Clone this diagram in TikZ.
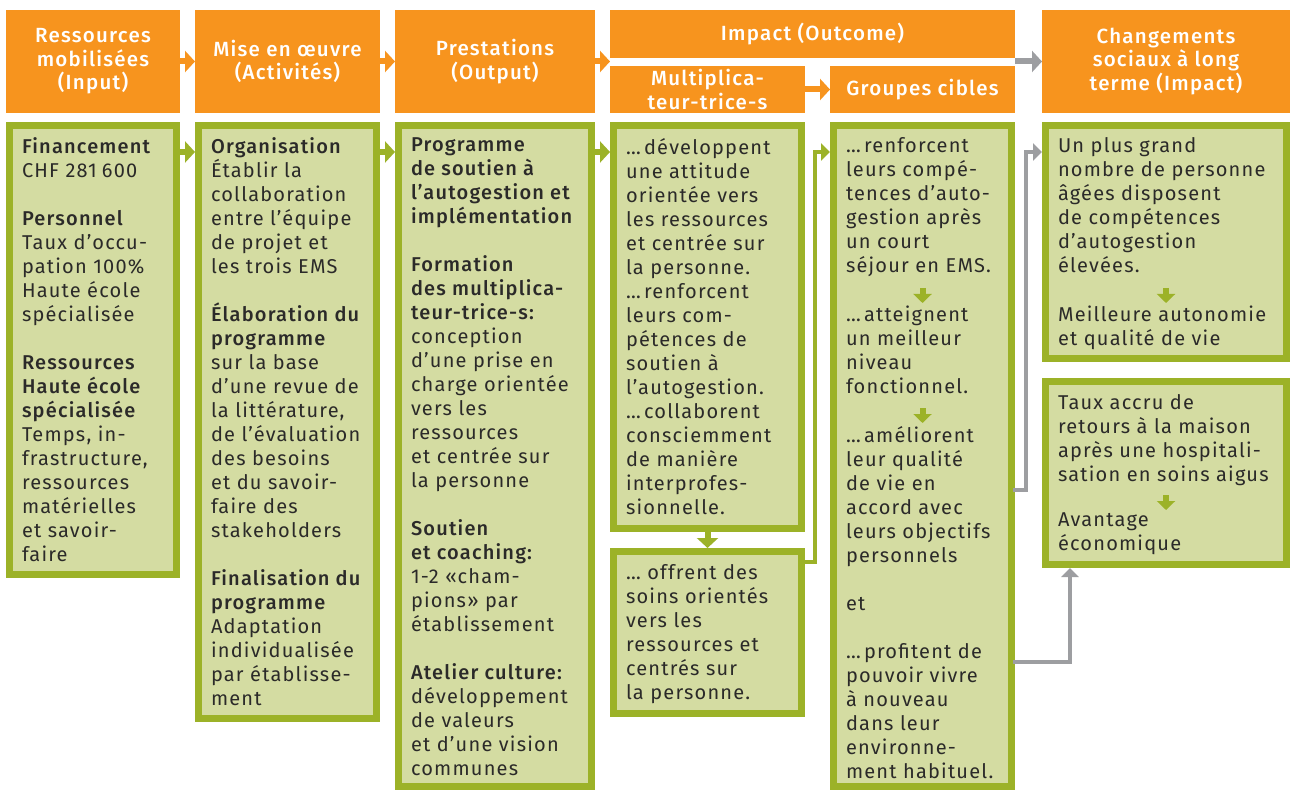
\documentclass[tikz,border=0pt]{standalone}
\usepackage{fontspec}
\setmainfont{Fira Sans}[LetterSpace=6, BoldFont={Fira Sans Medium}]
\usepackage{tikz}
\usetikzlibrary{calc}
\usetikzlibrary{arrows.meta}

\definecolor{headorange}{HTML}{F7941E}
\definecolor{boxgreen}{HTML}{9CB228}
\definecolor{boxfill}{HTML}{D4DCA2}
\definecolor{linkgrey}{HTML}{9D9EA1}
\definecolor{textdark}{HTML}{2B2A29}

\begin{document}
\begin{tikzpicture}[x=1pt,y=-1pt]
			\tikzstyle{every node}=[inner sep=0pt, outer sep=0pt, font=\fontsize{20}{24}\selectfont]
			\tikzstyle{head}=[fill=headorange, text=white, align=center, anchor=north west, font=\fontsize{20.5}{23.5}\selectfont\bfseries]
			\tikzstyle{gbox}=[draw=boxgreen, fill=boxfill, line width=7pt, outer sep=3.5pt, anchor=north west]
			\tikzstyle{txt}=[text=textdark, align=left, anchor=north west]
			\tikzstyle{harrow}=[headorange, line width=6pt, -{Triangle[width=21pt,length=10pt]}]
			\tikzstyle{garrow}=[linkgrey, line width=6pt, -{Triangle[width=21pt,length=10pt]}]
			\tikzstyle{barrow}=[boxgreen, line width=6pt, -{Triangle[width=21pt,length=10pt]}]
			\tikzstyle{lnkgreen}=[boxgreen, line width=4pt, -{Triangle[width=17pt,length=9pt]}]
			\tikzstyle{lnkgrey}=[linkgrey, line width=4pt, -{Triangle[width=17pt,length=9pt]}]
			\tikzstyle{tarrow}=[boxgreen, line width=6pt, -{Triangle[width=18pt,length=9pt]}]
			
			\useasboundingbox (0,0) rectangle (1292,791);
			
			% header row
			\node[head, minimum width=174pt, minimum height=103pt] (hInput) at (6,10) {Ressources\\mobilisées\\(Input)};
			\node[head, minimum width=185pt, minimum height=103pt] (hActiv) at (195,10) {Mise en œuvre\\(Activités)};
			\node[head, minimum width=200pt, minimum height=103pt] (hPrest) at (395,10) {Prestations\\(Output)};
			\node[head, minimum width=405pt, minimum height=48pt] (hOutcome) at (610,10) {Impact (Outcome)};
			\node[head, minimum width=195pt, minimum height=47pt] (hMulti) at (610,66) {Multiplica-\\teur-trice-s};
			\node[head, minimum width=185pt, minimum height=47pt] (hCibles) at (830,66) {Groupes cibles};
			\node[head, minimum width=248pt, minimum height=103pt] (hLong) at (1042,10) {Changements\\sociaux à long\\terme (Impact)};
			
			\draw[harrow] (hInput) -- (hActiv);
			\draw[harrow] (hActiv) -- (hPrest);
			\draw[harrow] (hPrest.east) -- (hPrest.east -| hMulti.west);
			\draw[harrow] (hMulti) -- (hCibles);
			\draw[garrow] (hOutcome.east |- hLong.west) -- (hLong.west);
			
			% green boxes
			\node[gbox, minimum width=167pt, minimum height=449pt] (bInput) at (6,122) {};
			\node[gbox, minimum width=178pt, minimum height=593pt] (bActiv) at (195,122) {};
			\node[gbox, minimum width=193pt, minimum height=661pt] (bPrest) at (395,122) {};
			\node[gbox, minimum width=188pt, minimum height=403pt] (bMulti) at (610,122) {};
			\node[gbox, minimum width=188pt, minimum height=162pt] (bOffre) at (610,548) {};
			\node[gbox, minimum width=178pt, minimum height=661pt] (bCibles) at (830,122) {};
			\node[gbox, minimum width=241pt, minimum height=233pt] (bImpact) at (1042,122) {};
			\node[gbox, minimum width=241pt, minimum height=183pt] (bRetour) at (1042,378) {};
			
			\node[txt] (t1) at ($(bInput.north west)+(16,16)$) {\textbf{Financement}\\CHF 281\hspace{5pt}600\\[24pt]
				\textbf{Personnel}\\Taux d’occu-\\pation 100\%\\Haute école\\spécialisée\\[24pt]
				\textbf{Ressources}\\\textbf{Haute école}\\\textbf{spécialisée}\\Temps, in-\\frastructure,\\ressources\\matérielles\\et savoir-\\faire};
			
			\node[txt] (t2) at ($(bActiv.north west)+(16,16)$) {\textbf{Organisation}\\Établir la\\collaboration\\entre l’équipe\\de projet et\\les trois EMS\\[24pt]
				\textbf{Élaboration du}\\\textbf{programme}\\sur la base\\d’une revue de\\la littérature,\\de l’évaluation\\des besoins\\et du savoir-\\faire des\\stakeholders\\[24pt]
				\textbf{Finalisation du}\\\textbf{programme}\\Adaptation\\individualisée\\par établisse-\\ment};
			
			\node[txt] (t3) at ($(bPrest.north west)+(16,16)$) {\textbf{Programme}\\\textbf{de soutien à}\\\textbf{l’autogestion et}\\\textbf{implémentation}\\[24pt]
				\textbf{Formation}\\\textbf{des multiplica-}\\\textbf{teur-trice-s:}\\conception\\d’une prise en\\charge orientée\\vers les\\ressources\\et centrée sur\\la personne\\[24pt]
				\textbf{Soutien}\\\textbf{et coaching:}\\1-2 «cham-\\pions» par\\établissement\\[24pt]
				\textbf{Atelier culture:}\\développement\\de valeurs\\et d’une vision\\communes};
			
			\node[txt] (t4) at ($(bMulti.north west)+(16,16)$) {…\,développent\\une attitude\\orientée vers\\les ressources\\et centrée sur\\la personne.\\…\,renforcent\\leurs com-\\pétences de\\soutien à\\l’autogestion.\\…\,collaborent\\consciemment\\de manière\\interprofes-\\sionnelle.};
			
			\node[txt] (t5) at ($(bOffre.north west)+(16,16)$) {…\ offrent des\\soins orientés\\vers les\\ressources et\\centrés sur\\la personne.};
			
			\node[txt] (t6a) at ($(bCibles.north west)+(16,16)$) {…\,renforcent\\leurs compé-\\tences d’auto-\\gestion après\\un court\\séjour en EMS.};
			\node[txt] (t6b) at ($(bCibles.north west)+(16,184)$) {…\,atteignent\\un meilleur\\niveau\\fonctionnel.};
			\node[txt] (t6c) at ($(bCibles.north west)+(16,304)$) {…\,améliorent\\leur qualité\\de vie en\\accord avec\\leurs objectifs\\personnels\\[24pt]
				et\\[24pt]
				…\,profitent de\\pouvoir vivre\\à nouveau\\dans leur\\environne-\\ment habituel.};
			
			\node[txt] (t7a) at ($(bImpact.north west)+(16,16)$) {Un plus grand\\nombre de personne\\âgées disposent\\de compétences\\d’autogestion\\élevées.};
			\node[txt] (t7b) at ($(bImpact.north west)+(16,184)$) {Meilleure autonomie\\et qualité de vie};
			
			\node[txt] (t8a) at ($(bRetour.north west)+(16,16)$) {Taux accru de\\retours à la maison\\après une hospitali-\\sation en soins aigus};
			\node[txt] (t8b) at ($(bRetour.north west)+(16,135)$) {Avantage\\économique};
			
			% arrows inside the boxes
			\draw[tarrow] ($(t6b.north -| bCibles.center)+(0,-18)$) -- ($(t6b.north -| bCibles.center)+(0,-3)$);
			\draw[tarrow] ($(t6c.north -| bCibles.center)+(0,-18)$) -- ($(t6c.north -| bCibles.center)+(0,-3)$);
			\draw[tarrow] ($(t7b.north -| bImpact.center)+(0,-18)$) -- ($(t7b.north -| bImpact.center)+(0,-3)$);
			\draw[tarrow] ($(t8b.north -| bRetour.center)+(0,-18)$) -- ($(t8b.north -| bRetour.center)+(0,-3)$);
			
			% links between the boxes
			\draw[barrow] ($(bInput.north east)+(0,30)$) -- ($(bActiv.north west)+(0,30)$);
			\draw[barrow] ($(bActiv.north east)+(0,30)$) -- ($(bPrest.north west)+(0,30)$);
			\draw[barrow] ($(bPrest.north east)+(0,30)$) -- ($(bMulti.north west)+(0,30)$);
			\draw[barrow] (bMulti) -- (bOffre);
			\draw[lnkgreen] ($(bOffre.north east)+(-2,14)$) -- ++(12,0) |- ($(bCibles.north west)+(0,30)$);
			\draw[lnkgrey] ($(bCibles.north east)+(-2,368)$) -- ++(13,0) |- ($(bImpact.north west)+(0,30)$);
			\draw[lnkgrey] ($(bCibles.north east)+(-2,540)$) -| ($(bRetour.south west)+(28,0)$);
			
\end{tikzpicture}
\end{document}
